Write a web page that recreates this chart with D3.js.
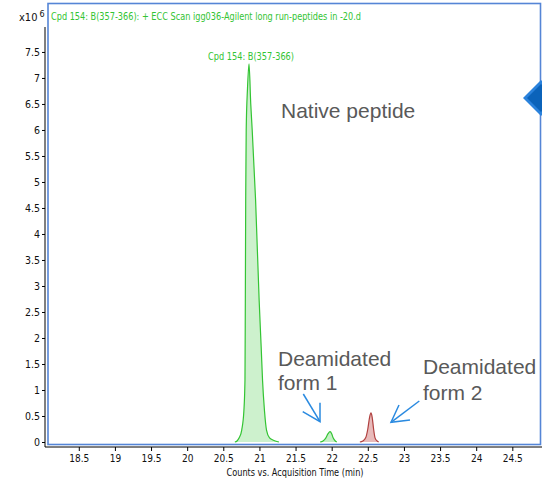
<!DOCTYPE html>
<html>
<head>
<meta charset="utf-8">
<script src="https://cdn.jsdelivr.net/npm/d3@7"></script>
<style>
  html, body { margin: 0; padding: 0; background: #fff; overflow: hidden; }
  svg { display: block; }
</style>
</head>
<body>
<svg id="chart" width="542" height="479"></svg>
<script>
// ---------- Data (time in min, counts in x10^6) ----------
const nativePeak = [
  [20.66, 0], [20.69, 0.02], [20.72, 0.08], [20.755, 0.23], [20.785, 0.6],
  [20.80, 1.19], [20.805, 2.73], [20.81, 4.65], [20.817, 6.0], [20.835, 6.8],
  [20.856, 7.27], [20.88, 6.5], [20.90, 6.0], [20.947, 4.65], [20.996, 2.73],
  [21.025, 1.8], [21.043, 1.19], [21.07, 0.6], [21.098, 0.23], [21.14, 0.08],
  [21.20, 0.03], [21.27, 0]
];
const deamidated1 = [
  [21.84, 0], [21.88, 0.02], [21.92, 0.08], [21.95, 0.16], [21.977, 0.2],
  [22.0, 0.16], [22.02, 0.08], [22.05, 0.02], [22.07, 0]
];
const deamidated2 = [
  [22.39, 0], [22.43, 0.02], [22.47, 0.08], [22.50, 0.25], [22.525, 0.48],
  [22.544, 0.56], [22.56, 0.48], [22.58, 0.25], [22.60, 0.08], [22.63, 0.02], [22.65, 0]
];
const xTicks = [18.5, 19, 19.5, 20, 20.5, 21, 21.5, 22, 22.5, 23, 23.5, 24, 24.5];
const yTicks = [0, 0.5, 1, 1.5, 2, 2.5, 3, 3.5, 4, 4.5, 5, 5.5, 6, 6.5, 7, 7.5];
const titleText = "Cpd 154: B(357-366): + ECC Scan igg036-Agilent long run-peptides in -20.d";
const peakLabel = "Cpd 154: B(357-366)";
const xTitle = "Counts vs. Acquisition Time (min)";
const nativeApex = [20.856, 7.27];

// ---------- Layout ----------
const svg = d3.select("#chart");
const frame = { left: 48, top: 3.5, right: 540.5, bottom: 444.5 };
const x = d3.scaleLinear().domain([18.074, 24.883]).range([48, 540]);
const y = d3.scaleLinear().domain([0, 7.98]).range([442, 27]);

const green = "#33c433";
const font = '"Liberation Sans Narrow", "Arial Narrow", "DejaVu Sans Condensed", sans-serif';

// Frame
svg.append("rect")
  .attr("x", frame.left).attr("y", frame.top)
  .attr("width", frame.right - frame.left).attr("height", frame.bottom - frame.top)
  .attr("fill", "none").attr("stroke", "#5585d6").attr("stroke-width", 1.6);

// Peaks
const area = d3.area().x(d => x(d[0])).y0(y(0)).y1(d => y(d[1])).curve(d3.curveMonotoneX);
const line = d3.line().x(d => x(d[0])).y(d => y(d[1])).curve(d3.curveMonotoneX);

function drawPeak(data, fill, stroke) {
  svg.append("path").datum(data).attr("d", area).attr("fill", fill);
  svg.append("path").datum(data).attr("d", line).attr("fill", "none")
    .attr("stroke", stroke).attr("stroke-width", 1.2);
}
drawPeak(nativePeak, "#cdf1cd", green);
drawPeak(deamidated1, "#c5efc5", green);
drawPeak(deamidated2, "#e8baba", "#b0403f");

// Axes
const yAxis = d3.axisLeft(y).tickValues(yTicks).tickSize(3).tickPadding(2)
  .tickFormat(d3.format("~g"));
const gy = svg.append("g").attr("transform", "translate(45,0)").call(yAxis);
gy.select(".domain").remove();
gy.append("line").attr("x1", 0).attr("x2", 0).attr("y1", 27).attr("y2", 447)
  .attr("stroke", "#000");
gy.selectAll(".tick text").attr("font-family", font).attr("font-size", 10.5).attr("fill", "#111");

const xAxis = d3.axisBottom(x).tickValues(xTicks).tickSize(4).tickPadding(4)
  .tickFormat(d3.format("~g"));
const gx = svg.append("g").attr("transform", "translate(0,447)").call(xAxis);
gx.select(".domain").remove();
gx.append("line").attr("x1", 45).attr("x2", 542).attr("y1", 0).attr("y2", 0).attr("stroke", "#000");
gx.selectAll(".tick text").attr("font-family", font).attr("font-size", 10).attr("fill", "#111");

svg.append("text").attr("x", 295).attr("y", 476).attr("text-anchor", "middle")
  .attr("font-family", font).attr("font-size", 10.5).attr("fill", "#111")
  .attr("textLength", 137).attr("lengthAdjust", "spacingAndGlyphs").text(xTitle);

// x10^6
const mult = svg.append("text").attr("x", 19).attr("y", 21)
  .attr("font-family", font).attr("font-size", 11).attr("fill", "#111");
mult.append("tspan").text("x10");
mult.append("tspan").attr("dx", 2).attr("dy", -4).attr("font-size", 9).text("6");

// Title
svg.append("text").attr("x", 51).attr("y", 20)
  .attr("font-family", font).attr("font-size", 11).attr("fill", green)
  .attr("textLength", 310).attr("lengthAdjust", "spacingAndGlyphs").text(titleText);

// Peak label
svg.append("text").attr("x", x(nativeApex[0]) + 2).attr("y", y(nativeApex[1]) - 3.5)
  .attr("text-anchor", "middle")
  .attr("font-family", font).attr("font-size", 10).attr("fill", green)
  .attr("textLength", 86).attr("lengthAdjust", "spacingAndGlyphs").text(peakLabel);

// Annotations
const annFont = '"Liberation Sans", Arial, sans-serif';
function annText(tx, ty, s) {
  svg.append("text").attr("x", tx).attr("y", ty)
    .attr("font-family", annFont).attr("font-size", 21).attr("fill", "#595959").text(s);
}
annText(281, 118, "Native peptide");
annText(278, 366, "Deamidated");
annText(278, 390, "form 1");
annText(423, 374, "Deamidated");
annText(423, 400, "form 2");

const arrowColor = "#2a8ae0";
function arrow(pts) {
  svg.append("path").attr("d", d3.line()(pts)).attr("fill", "none")
    .attr("stroke", arrowColor).attr("stroke-width", 1.5).attr("stroke-linejoin", "miter");
}
arrow([[303.3, 394], [320, 421.7]]);
arrow([[302.7, 411.7], [320, 421.7], [320, 402.7]]);
arrow([[419.3, 401], [391, 422.3]]);
arrow([[399, 405], [391, 422.3], [410, 420]]);

// Blue diamond on right edge
svg.append("polygon").attr("points", "523,98 541,80 559,98 541,116").attr("fill", "#2a82dc");
svg.append("polygon").attr("points", "527,98 541,84 555,98 541,112").attr("fill", "#0b63ba");
</script>
</body>
</html>
